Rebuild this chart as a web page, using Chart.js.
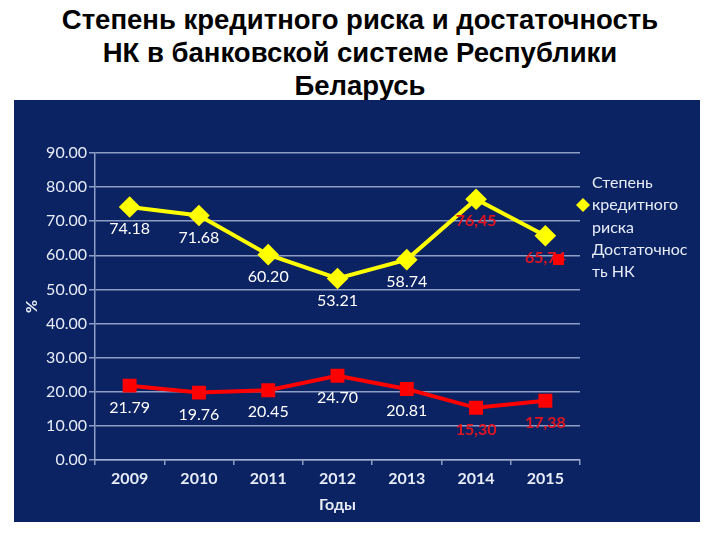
<!DOCTYPE html>
<html>
<head>
<meta charset="utf-8">
<script src="https://cdn.jsdelivr.net/npm/chart.js@4/dist/chart.umd.min.js"></script>
<style>
  body { margin: 0; width: 720px; height: 540px; background: #fff; position: relative; overflow: hidden; }
  #title { position: absolute; left: 0; top: 3px; width: 720px; text-align: center;
           font: bold 27.5px "Liberation Sans", Arial, sans-serif; line-height: 33px; color: #000; }
  #panel { position: absolute; left: 14px; top: 100px; width: 686px; height: 422px; background: #0b2263; }
</style>
</head>
<body>
<div id="title">Степень кредитного риска и достаточность<br>НК в банковской системе Республики<br>Беларусь</div>
<div id="panel"><canvas id="chart" width="686" height="422"></canvas></div>
<script>
const years = ['2009', '2010', '2011', '2012', '2013', '2014', '2015'];
const creditRisk = [74.18, 71.68, 60.20, 53.21, 58.74, 76.45, 65.74];
const capitalAdequacy = [21.79, 19.76, 20.45, 24.70, 20.81, 15.30, 17.38];
const creditRiskLabels = ['74.18', '71.68', '60.20', '53.21', '58.74', '76,45', '65,74'];
const capitalLabels = ['21.79', '19.76', '20.45', '24.70', '20.81', '15,30', '17,38'];
const yTicks = [0, 10, 20, 30, 40, 50, 60, 70, 80, 90];

const fontFamily = 'Lato, "Open Sans", sans-serif';
const gridColor = 'rgba(165,180,215,0.85)';
const textColor = '#e6ecf8';

// подписи значений под точками
const valueLabels = {
    id: 'valueLabels',
    afterDatasetsDraw(chart) {
        const ctx = chart.ctx;
        ctx.save();
        ctx.textAlign = 'center';
        ctx.textBaseline = 'middle';
        const sets = [creditRiskLabels, capitalLabels];
        chart.data.datasets.forEach((ds, i) => {
            chart.getDatasetMeta(i).data.forEach((pt, j) => {
                const red = j >= 5;
                ctx.font = (red ? 'bold ' : '') + '16px ' + fontFamily;
                ctx.fillStyle = red ? '#e0141e' : '#ffffff';
                ctx.fillText(sets[i][j], pt.x, pt.y + 22);
            });
        });
        ctx.restore();
    }
};

// легенда справа
const sideLegend = {
    id: 'sideLegend',
    afterDraw(chart) {
        const ctx = chart.ctx;
        ctx.save();
        ctx.font = '16px ' + fontFamily;
        ctx.fillStyle = textColor;
        ctx.textAlign = 'left';
        ctx.textBaseline = 'middle';
        const x = 578;
        ['Степень', 'кредитного', 'риска', 'Достаточнос', 'ть НК'].forEach((t, i) => {
            ctx.fillText(t, x, 83 + i * 22.3);
        });
        ctx.fillStyle = '#ffff00';
        ctx.beginPath();
        ctx.moveTo(569, 98); ctx.lineTo(576, 105); ctx.lineTo(569, 112); ctx.lineTo(562, 105);
        ctx.closePath();
        ctx.fill();
        ctx.fillStyle = '#ff0000';
        ctx.fillRect(539, 154, 11, 11);
        ctx.restore();
    }
};

new Chart(document.getElementById('chart'), {
    type: 'line',
    data: {
        labels: years,
        datasets: [{
            label: 'Степень кредитного риска',
            data: creditRisk,
            borderColor: '#ffff00',
            backgroundColor: '#ffff00',
            borderWidth: 4,
            pointStyle: 'rectRot',
            pointRadius: 8,
            pointHoverRadius: 8,
            tension: 0
        }, {
            label: 'Достаточность НК',
            data: capitalAdequacy,
            borderColor: '#ff0000',
            backgroundColor: '#ff0000',
            borderWidth: 4,
            pointStyle: 'rect',
            pointRadius: 7,
            pointHoverRadius: 7,
            tension: 0
        }]
    },
    options: {
        responsive: false,
        animation: false,
        layout: { padding: { top: 53, right: 120, left: 0, bottom: 0 } },
        plugins: {
            legend: { display: false },
            tooltip: { enabled: false }
        },
        scales: {
            x: {
                offset: true,
                grid: { offset: true, drawOnChartArea: false, drawTicks: true, tickLength: 5, color: gridColor, lineWidth: 1.5 },
                border: { color: gridColor, width: 1.5 },
                ticks: { color: textColor, font: { family: fontFamily, size: 16, weight: 'bold' }, padding: 4 },
                title: { display: true, text: 'Годы', color: textColor, font: { family: fontFamily, size: 16, weight: 'bold' }, padding: { top: 4, bottom: 8 } },
                afterFit(scale) { scale.height = 62; }
            },
            y: {
                min: 0,
                max: 90,
                afterBuildTicks(scale) { scale.ticks = yTicks.map(v => ({ value: v })); },
                grid: { color: gridColor, lineWidth: 1.5, tickLength: 6 },
                border: { color: gridColor, width: 1.5 },
                ticks: {
                    color: textColor,
                    font: { family: fontFamily, size: 16 },
                    padding: 2,
                    callback: v => v.toFixed(2)
                },
                title: { display: true, text: '%', color: textColor, font: { family: fontFamily, size: 16, weight: 'bold' }, padding: { top: 8, bottom: 0 } },
                afterFit(scale) { scale.width = 81; }
            }
        }
    },
    plugins: [valueLabels, sideLegend]
});
</script>
</body>
</html>
